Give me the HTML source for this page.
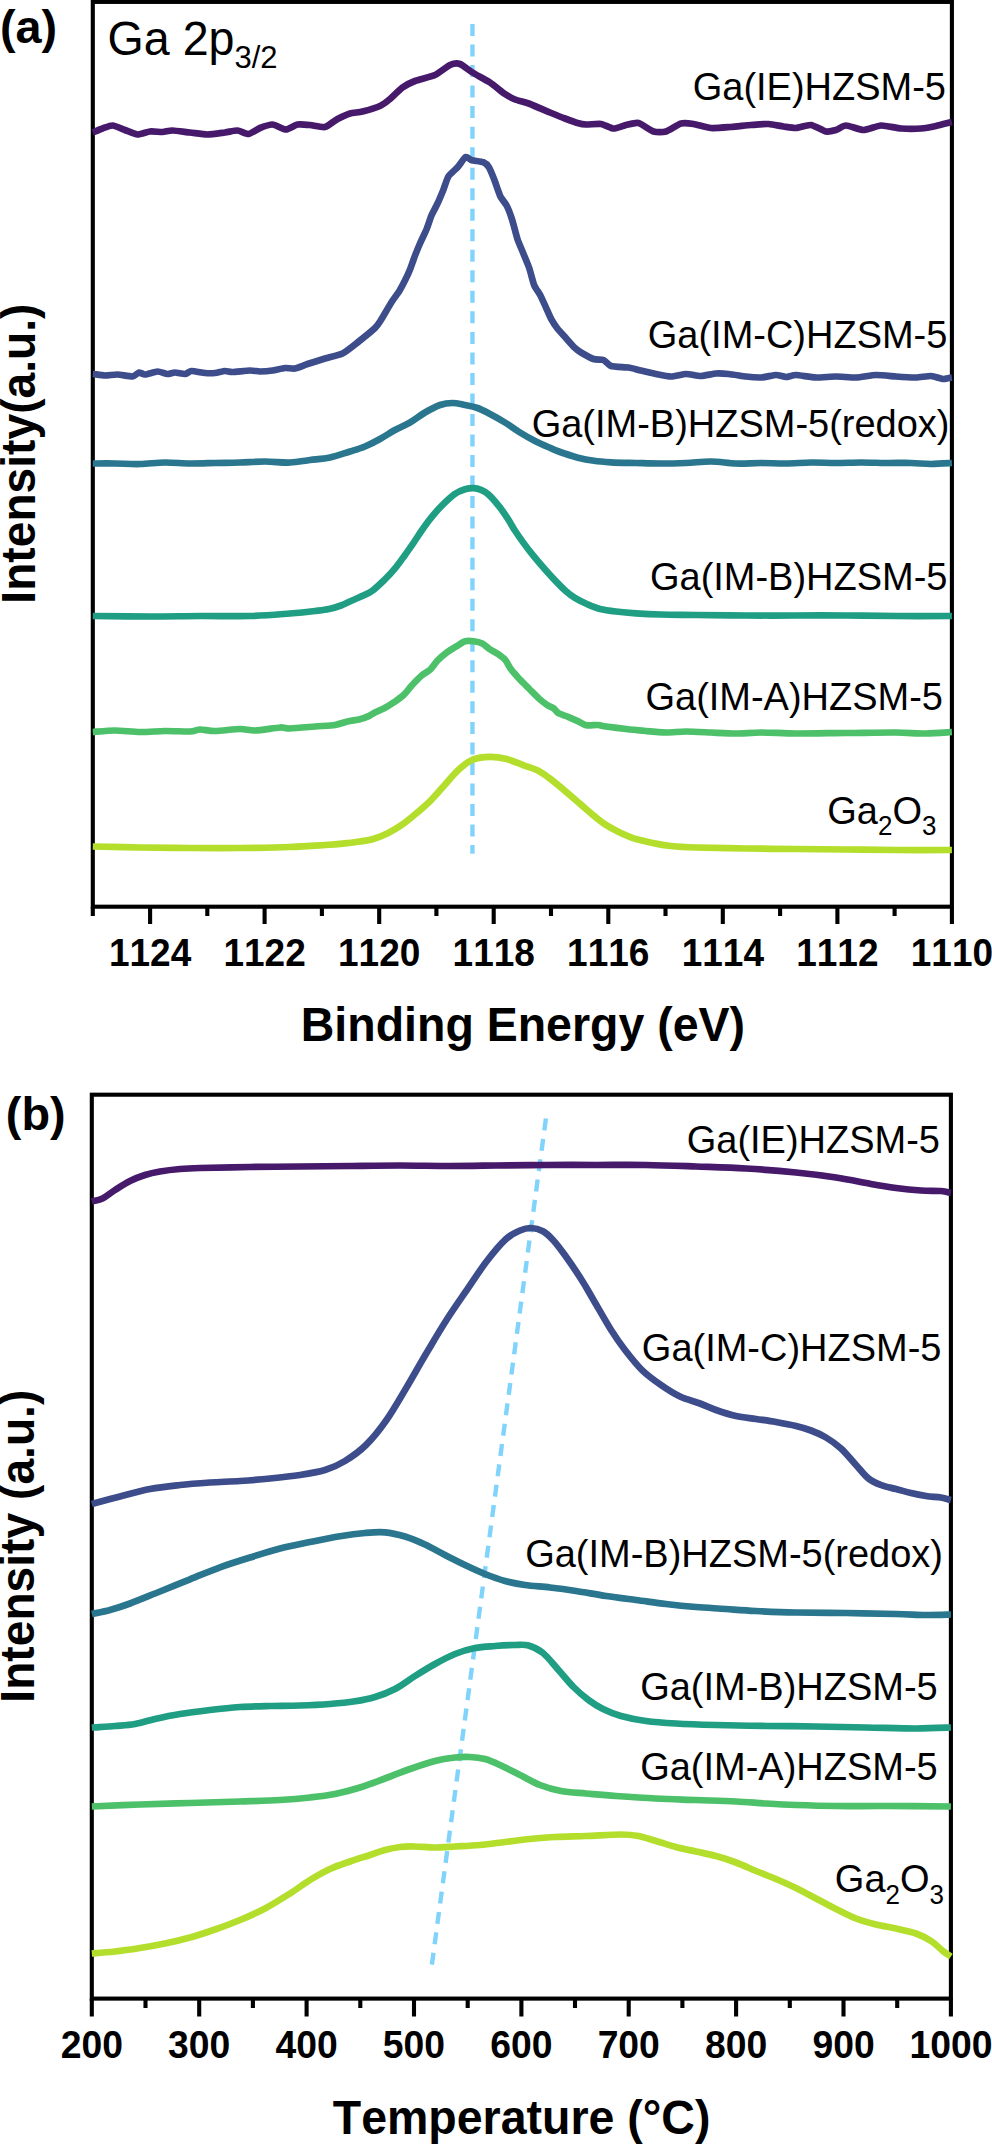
<!DOCTYPE html>
<html lang="en"><head><meta charset="utf-8"><title>Ga XPS and TPR</title>
<style>html,body{margin:0;padding:0;background:#fff}body{width:992px;height:2144px;overflow:hidden}svg{display:block}text{font-family:'Liberation Sans', sans-serif;fill:#000;font-kerning:none}.lab{font-size:38px}.tk{font-size:37px;font-weight:700;text-anchor:middle}.tk2{font-size:37.3px;font-weight:700;text-anchor:middle}.ttl{font-size:46.5px;font-weight:700;text-anchor:middle}.pl{font-size:46.8px;font-weight:700}.c{fill:none;stroke-linejoin:round;stroke-linecap:butt}</style>
</head><body>
<svg width="992" height="2144" viewBox="0 0 992 2144">
<rect width="992" height="2144" fill="#fff"/>
<g id="plot-a">
<rect x="92.8" y="1.9" width="859.1" height="904.8" fill="none" stroke="#000" stroke-width="4.1"/>
<path d="M92.8 906.7V916M150.1 906.7V924M207.3 906.7V916M264.6 906.7V924M321.9 906.7V916M379.2 906.7V924M436.4 906.7V916M493.7 906.7V924M551 906.7V916M608.3 906.7V924M665.5 906.7V916M722.8 906.7V924M780.1 906.7V916M837.4 906.7V924M894.6 906.7V916M951.9 906.7V924" stroke="#000" stroke-width="4.1" fill="none"/>
<line x1="472.45" y1="24" x2="472.45" y2="853.7" stroke="#80d3fb" stroke-width="4.4" stroke-dasharray="12 8.526"/>
<path class="c" d="M92.8 132.5C93.8 132.1 100.4 129.2 102.5 128.5C104.6 127.8 110.1 125.3 112.5 125.5C114.9 125.7 122.3 129 125 130C127.7 131 134.8 134.3 137.5 134.5C140.2 134.7 147.3 131.8 150 131.5C152.7 131.2 160.1 132.1 162.5 132C164.9 131.9 169.6 130.4 172.5 130.5C175.4 130.6 186.3 132.1 190 132.5C193.7 132.9 203.8 134.5 207.5 134.5C211.2 134.5 221.8 132.9 225 132.5C228.2 132.1 235 130.3 237.5 130.5C240 130.7 246.1 134.3 248.5 134C250.9 133.7 257.4 129 260 128C262.6 127 269.7 124.3 272.5 124.5C275.3 124.7 283.3 129.5 286 129.5C288.7 129.5 294.9 125 297.5 124.5C300.1 124 307.1 124.7 310 125C312.9 125.3 322.1 127.6 325 127C327.9 126.4 334.8 120.4 337.5 119C340.2 117.6 347.3 114.3 350 113.5C352.7 112.7 359.3 112.3 362.5 111.5C365.7 110.7 377.1 107.3 380 106C382.9 104.7 387.6 101 390 99C392.4 97 399.8 89.4 402.5 87.5C405.2 85.6 411.5 82.3 415 81C418.5 79.7 431.3 76.7 435 75C438.7 73.3 447.3 66.2 450 65C452.7 63.8 457.6 63.2 460 64C462.4 64.8 469.3 70.5 472.5 72.5C475.7 74.5 486.5 80.2 490 82.5C493.5 84.8 502.3 92.2 505 94C507.7 95.8 512.3 98.4 515 99.5C517.7 100.6 526.3 102.6 530 104C533.7 105.4 546.3 111 550 112.5C553.7 114 562.1 117.4 565 118.5C567.9 119.6 575.3 122.4 577.5 123C579.7 123.6 583.5 124.4 586 124.5C588.5 124.6 598.1 123.6 601 124C603.9 124.4 610.8 128.4 613.5 128.5C616.2 128.6 623.3 125.6 626 125C628.7 124.4 635.6 122.3 638.5 123C641.4 123.7 650.6 130.6 653.5 131.5C656.4 132.4 663.1 132.4 666 131.5C668.9 130.6 678.1 124.3 681 123.5C683.9 122.7 690.3 123.5 693.5 124C696.7 124.5 707 127.7 711 128C715 128.3 726.7 127.3 731 127C735.3 126.7 747 125.3 751 125C755 124.7 765 123.8 768.5 124C772 124.2 780.6 126.1 783.5 126.5C786.4 126.9 793.1 128.2 796 128C798.9 127.8 807.8 124.6 811 125C814.2 125.4 823.3 131 826 131.5C828.7 132 833.9 130.6 836 130C838.1 129.4 843.1 125.5 846 125.5C848.9 125.5 859.8 130 863.5 130C867.2 130 877 125.7 881 125.5C885 125.3 896.7 128.2 901 128.5C905.3 128.8 917.3 128.8 921 128.5C924.7 128.2 932.7 126.7 936 126C939.3 125.3 950.2 122.4 951.9 122" stroke="#46196b" stroke-width="6.7"/>
<path class="c" d="M92.8 374C94 374.1 102.5 375.4 105 375.5C107.5 375.6 114.8 374.4 117.5 374.5C120.2 374.6 130.3 376.7 132.5 376.5C134.7 376.3 137.8 372.7 139 372.5C140.2 372.3 143.2 374.6 145 374.5C146.8 374.4 155.2 371.6 157.5 371.5C159.8 371.4 165.8 373.9 167.5 374C169.2 374.1 173.2 372.5 175 372.5C176.8 372.5 183.3 374.1 185 374C186.7 373.9 189.5 371.1 191.5 371C193.5 370.9 202.7 372.8 205 373C207.3 373.2 213 373.2 215 373C217 372.8 223.2 371.1 225 371C226.8 370.9 230 372.1 232.5 372C235 371.9 247.2 370.6 250 370.5C252.8 370.4 257.8 371.5 260 371.5C262.2 371.5 270 370.9 272.5 370.5C275 370.1 282.8 368.2 285 368C287.2 367.8 292.8 368.9 295 368.5C297.2 368.1 304.5 365 307.5 364C310.5 363 321.5 359.6 325 358.5C328.5 357.4 339.2 355.1 342.5 353.5C345.8 351.9 354.2 345.1 357.5 342.5C360.8 339.9 372.8 330.1 375 328C377.2 325.9 378.3 324.2 380 321.5C381.7 318.8 390.2 304.3 392.1 301.3C394 298.3 397.9 293.3 399.2 291.2C400.5 289.1 404.1 282.3 405.2 280.1C406.3 277.9 409.2 271.5 410.2 269C411.2 266.5 414.3 257.5 415.3 254.9C416.3 252.3 419.2 245.4 420.3 242.8C421.4 240.2 425.7 231.4 426.8 228.7C427.9 226 430.3 218.1 431.4 215.6C432.5 213.1 436.3 206.1 437.5 203.5C438.7 200.9 442.4 192.1 443.5 189.4C444.6 186.7 447.1 178.5 448.5 176.3C449.9 174.1 455.9 169.1 457.6 167.2C459.3 165.3 464.3 157.8 465.7 157.1C467.1 156.4 469.9 159.7 471.7 160.2C473.4 160.7 481.5 161.5 483.2 162.2C484.9 162.9 487.8 165.4 488.9 167.2C490 169 493.4 177.4 494.5 180.3C495.6 183.2 499.2 194 500.4 196.5C501.6 199 505.4 203.2 506.6 205.5C507.8 207.8 511 216.2 512.1 219.6C513.2 223 516.6 236.5 517.7 239.8C518.8 243.1 522 250.1 523.1 252.9C524.2 255.7 528.1 264.8 529.2 268C530.3 271.2 533.1 282.5 534.2 285.2C535.3 287.9 539.1 292.9 540.3 295.2C541.5 297.5 545.2 305.9 546.3 308.3C547.4 310.7 550.3 317.4 551.4 319.4C552.5 321.4 556 326.7 557.4 328.5C558.8 330.3 563.8 335.7 565.5 337.6C567.2 339.5 573.1 346.2 574.6 347.7C576.1 349.2 579.1 351.4 581 352.5C582.9 353.6 591.2 358.2 593.5 359C595.8 359.8 601.8 359.3 603.5 360C605.2 360.7 608.5 365.2 611 366C613.5 366.8 625.5 367.1 628.5 367.5C631.5 367.9 638.2 369.9 641 370.5C643.8 371.1 653 373.4 656 374C659 374.6 668 376.5 671 376.5C674 376.5 683 374.1 686 374C689 373.9 698 376.1 701 376C704 375.9 713.2 373.7 716 373.5C718.8 373.3 725.5 373.7 728.5 374C731.5 374.3 742.8 376.1 746 376.5C749.2 376.9 758 377.6 761 377.5C764 377.4 773.5 375.1 776 375C778.5 374.9 784 377 786 377C788 377 793 374.9 796 375C799 375.1 812 377.4 816 377.5C820 377.6 832 376.5 836 376.5C840 376.5 852 377.6 856 377.5C860 377.4 872 375.1 876 375C880 374.9 892 376.2 896 376.5C900 376.8 912.5 377.6 916 377.5C919.5 377.4 928.2 375.9 931 376C933.8 376.1 941.4 378.9 943.5 379C945.6 379.1 951.1 377.6 951.9 377.5" stroke="#3d4c8a" stroke-width="6.7"/>
<path class="c" d="M92.8 463.5C96.5 463.5 107.1 463.4 115 463.5C122.9 463.6 131.7 464.2 140 464C148.3 463.8 156.7 462.6 165 462.5C173.3 462.4 181.7 463.4 190 463.5C198.3 463.6 206.7 463.2 215 463C223.3 462.8 231.7 462.8 240 462.5C248.3 462.2 256.7 461.5 265 461.5C273.3 461.5 282.5 462.8 290 462.5C297.5 462.2 303.3 460.8 310 460C316.7 459.2 323.3 458.9 330 457.5C336.7 456.1 344.2 453.3 350 451.5C355.8 449.7 360 448.6 365 446.5C370 444.4 375 441.8 380 439C385 436.2 390 432.8 395 430C400 427.2 405 425.4 410 422.5C415 419.6 420 415.4 425 412.5C430 409.6 435.4 406.6 440 405C444.6 403.4 448.3 403 452.5 403C456.7 403 460.8 404.2 465 405C469.2 405.8 473.3 406.5 477.5 408C481.7 409.5 485.4 411.6 490 414C494.6 416.4 500 419.4 505 422.5C510 425.6 515 429.4 520 432.5C525 435.6 530 438.4 535 441C540 443.6 545.3 445.8 550 447.8C554.7 449.8 558.3 451.4 563 453C567.7 454.6 572.8 456.4 578 457.7C583.2 459 588.5 460 594 460.8C599.5 461.6 604 461.9 611 462.3C618 462.7 627.7 462.8 636 463C644.3 463.2 652.7 463.5 661 463.5C669.3 463.5 677.7 463.3 686 463C694.3 462.7 702.7 461.4 711 461.5C719.3 461.6 727.7 463.2 736 463.5C744.3 463.8 752.7 463 761 463C769.3 463 777.7 463.6 786 463.5C794.3 463.4 802.7 462.6 811 462.5C819.3 462.4 827.7 463 836 463C844.3 463 852.7 462.5 861 462.5C869.3 462.5 877.7 462.9 886 463C894.3 463.1 903.5 462.8 911 463C918.5 463.2 924.2 464 931 464C937.8 464 948.4 463.2 951.9 463" stroke="#2a768e" stroke-width="6.7"/>
<path class="c" d="M92.8 616C102.3 616.1 132.1 616.5 150 616.5C167.9 616.5 183.3 616.1 200 616C216.7 615.9 235 616.4 250 616C265 615.6 279.2 614.3 290 613.5C300.8 612.7 308.5 611.8 315 611C321.5 610.2 324.7 609.9 329 609C333.3 608.1 337.2 606.9 341 605.5C344.8 604.1 348.8 601.9 352 600.5C355.2 599.1 356.7 598.6 360 597C363.3 595.4 367.8 594 372 591C376.2 588 381.3 582.9 385.4 578.9C389.4 574.9 393 570.8 396.3 566.8C399.6 562.8 402.3 558.7 405.2 554.7C408.1 550.7 410.9 546.6 413.7 542.6C416.4 538.6 418.9 534.5 421.7 530.5C424.5 526.5 427.4 522.4 430.6 518.4C433.8 514.4 437.1 510.3 441.1 506.3C445.1 502.3 450.4 497 454.4 494.2C458.4 491.4 461.8 490.3 465 489.3C468.2 488.3 471 488 473.7 488.1C476.4 488.2 478.6 488.8 481 489.8C483.4 490.8 485.2 491.4 488.2 494.2C491.2 496.9 495.9 502.3 499.1 506.3C502.3 510.3 505 514.4 507.6 518.4C510.2 522.4 512.3 526.5 514.9 530.5C517.5 534.5 520.4 538.6 523.3 542.6C526.2 546.6 529.3 550.7 532.5 554.7C535.7 558.7 539.2 562.8 542.7 566.8C546.2 570.8 549.8 574.9 553.6 578.9C557.4 582.9 562.1 587.8 565.7 591C569.3 594.2 571.7 596 575.3 598.2C578.9 600.4 583.3 602.5 587.4 604.3C591.5 606.1 595.2 607.8 600 609C604.8 610.2 610 610.8 616 611.5C622 612.2 628.5 612.8 636 613.3C643.5 613.8 651 614.2 661 614.5C671 614.8 681.8 614.8 696 615C710.2 615.2 729.3 615.4 746 615.5C762.7 615.6 779.3 615.5 796 615.5C812.7 615.5 829.3 615.4 846 615.5C862.7 615.6 878.4 615.9 896 616C913.6 616.1 942.6 616 951.9 616" stroke="#1f9e84" stroke-width="6.7"/>
<path class="c" d="M92.8 732C95.8 731.8 108.7 730.5 115 730.5C121.3 730.5 133.3 731.9 140 732C146.7 732.1 158.3 731.1 165 731C171.7 730.9 185.3 731.7 190 731.5C194.7 731.3 196.7 729.6 200 729.5C203.3 729.4 209.7 731.1 215 731C220.3 730.9 234.7 729.1 240 729C245.3 728.9 249.7 730.7 255 730.5C260.3 730.3 275.3 727.8 280 727.5C284.7 727.2 285.3 728.6 290 728.5C294.7 728.4 309 727 315 726.5C321 726 330.7 725.7 335 725C339.3 724.3 344.2 722.3 347.5 721.5C350.8 720.7 357 720 360 719.2C363 718.4 367.8 716.5 369.7 715.6C371.6 714.7 372.6 713.7 374.5 712.7C376.4 711.7 381.6 709.7 384.2 708.3C386.8 706.9 391.3 704.1 393.9 702.3C396.5 700.5 401.2 697.3 403.6 695C406 692.7 409.6 687.9 412 685.3C414.4 682.7 419.3 677.7 421.7 675.6C424.1 673.5 428.1 671.6 430.2 669.6C432.3 667.6 435.1 662.9 437.4 660.6C439.7 658.3 444.5 654.1 447.1 652.2C449.7 650.3 454.4 647.6 456.8 646.1C459.2 644.6 462.9 641.9 465.2 641.3C467.5 640.7 471.4 641 473.7 641.3C476 641.6 480.1 642.5 482.2 643.5C484.3 644.5 487.3 647.6 489.4 649C491.5 650.4 495.8 652.4 497.9 653.9C500 655.4 503.4 657.8 505.2 659.9C507 662 509.3 667 511.2 669.6C513.1 672.2 517.3 676.7 519.7 679.3C522.1 681.9 526.8 686.4 529.4 689C532 691.6 536.6 696.4 539 698.6C541.4 700.8 545.6 703.9 547.5 705.2C549.4 706.5 552.1 707.2 553.6 708.3C555.1 709.4 556.5 712.1 558.4 713.2C560.3 714.3 565.5 715.7 568.1 716.8C570.7 717.9 575.4 720 577.8 721.1C580.2 722.2 583.5 724.7 586.2 725.2C588.9 725.7 595.4 724.8 598 725C600.6 725.2 602.3 726 606 726.5C609.7 727 620.7 728.4 626 729C631.3 729.6 640.7 730.5 646 731C651.3 731.5 660.7 732.4 666 732.5C671.3 732.6 680 731.5 686 731.5C692 731.5 704.3 732.2 711 732.5C717.7 732.8 729.3 733.5 736 733.5C742.7 733.5 753 732.5 761 732.5C769 732.5 784.7 733.4 796 733.5C807.3 733.6 832.7 733.1 846 733C859.3 732.9 885.3 732.4 896 732.5C906.7 732.6 918.5 733.6 926 733.5C933.5 733.4 948.4 732.2 951.9 732" stroke="#4dc06a" stroke-width="6.7"/>
<path class="c" d="M92.8 846.5C100.7 846.7 123.8 847.2 140 847.5C156.2 847.8 173.3 847.9 190 848C206.7 848.1 223.3 848.2 240 848C256.7 847.8 275.8 847.5 290 847C304.2 846.5 315.8 845.6 325 845C334.2 844.4 339.2 843.9 345 843.3C350.8 842.7 355.1 842.3 360 841.5C364.9 840.7 369.4 840.1 374.1 838.7C378.8 837.3 383.5 835.4 388.2 833C392.9 830.6 397.6 827.9 402.3 824.6C407 821.3 411.7 817.3 416.4 813.3C421.1 809.3 425.9 805.3 430.6 800.6C435.3 795.9 440 790.2 444.7 785C449.4 779.8 454.1 773.7 458.8 769.5C463.5 765.3 467.7 761.7 472.9 759.6C478.1 757.5 484.1 756.9 489.8 756.8C495.5 756.7 501.1 757.7 506.8 759.1C512.5 760.5 518.5 763.4 523.7 765.3C528.9 767.2 533.6 768.3 537.8 770.4C542 772.5 544.9 774.9 549.1 778C553.3 781.1 558 785 563.2 789.3C568.4 793.6 575 799.4 580.2 803.9C585.4 808.4 590.1 812.6 594.3 816.1C598.5 819.6 601.3 821.9 605.5 824.6C609.7 827.3 615.5 830.4 619.7 832.5C624 834.6 627.6 836 631 837.3C634.4 838.6 636 839.1 640 840.1C644 841.1 649.8 842.5 655 843.5C660.2 844.5 664.2 845.3 671 846C677.8 846.7 683.5 847.1 696 847.5C708.5 847.9 729.3 848.2 746 848.5C762.7 848.8 779.3 848.8 796 849C812.7 849.2 829.3 849.3 846 849.5C862.7 849.7 878.4 849.9 896 850C913.6 850.1 942.6 850 951.9 850" stroke="#b4de2c" stroke-width="6.7"/>
<text class="pl" transform="translate(0 43.4)">(a)</text>
<text style="font-size:46.6px" transform="translate(107.6 54.8) scale(1 1.03)">Ga 2p<tspan font-size="31" dy="12.4">3/2</tspan></text>
<text class="lab" text-anchor="end" transform="translate(946 100) scale(1 1.035)">Ga(IE)HZSM-5</text>
<text class="lab" text-anchor="end" transform="translate(947.4 347.6) scale(1 1.035)">Ga(IM-C)HZSM-5</text>
<text class="lab" text-anchor="end" transform="translate(949.5 436.6) scale(1 1.035)">Ga(IM-B)HZSM-5(redox)</text>
<text class="lab" text-anchor="end" transform="translate(947.5 590.2) scale(1 1.035)">Ga(IM-B)HZSM-5</text>
<text class="lab" text-anchor="end" transform="translate(943 709.8) scale(1 1.035)">Ga(IM-A)HZSM-5</text>
<text class="lab" text-anchor="end" transform="translate(936.4 823.8) scale(1 1.035)">Ga<tspan font-size="26" dy="11">2</tspan><tspan dy="-11">O</tspan><tspan font-size="26" dy="11">3</tspan></text>
<text class="tk" transform="translate(150.07 965.7) scale(1 1.03)">1124</text>
<text class="tk" transform="translate(264.62 965.7) scale(1 1.03)">1122</text>
<text class="tk" transform="translate(379.17 965.7) scale(1 1.03)">1120</text>
<text class="tk" transform="translate(493.71 965.7) scale(1 1.03)">1118</text>
<text class="tk" transform="translate(608.26 965.7) scale(1 1.03)">1116</text>
<text class="tk" transform="translate(722.81 965.7) scale(1 1.03)">1114</text>
<text class="tk" transform="translate(837.35 965.7) scale(1 1.03)">1112</text>
<text class="tk" transform="translate(951.9 965.7) scale(1 1.03)">1110</text>
<text class="ttl" transform="translate(522.9 1041.4) scale(1 1.02)">Binding Energy (eV)</text>
<text class="ttl" style="font-size:46.2px" transform="translate(34.7 453.6) rotate(-90) scale(1 1.03)">Intensity(a.u.)</text>
</g>
<g id="plot-b">
<rect x="91.8" y="1094.7" width="859.1" height="903.9" fill="none" stroke="#000" stroke-width="4.1"/>
<path d="M91.8 1998.6V2016.5M145.5 1998.6V2008M199.2 1998.6V2016.5M252.9 1998.6V2008M306.6 1998.6V2016.5M360.3 1998.6V2008M414 1998.6V2016.5M467.7 1998.6V2008M521.4 1998.6V2016.5M575 1998.6V2008M628.7 1998.6V2016.5M682.4 1998.6V2008M736.1 1998.6V2016.5M789.8 1998.6V2008M843.5 1998.6V2016.5M897.2 1998.6V2008M950.9 1998.6V2016.5" stroke="#000" stroke-width="4.1" fill="none"/>
<line x1="545.9" y1="1118.5" x2="431.85" y2="1964.9" stroke="#80d3fb" stroke-width="4.4" stroke-dasharray="12 8.53"/>
<path class="c" d="M91.8 1201.5C93.6 1201 98.6 1200.4 102.5 1198.5C106.4 1196.6 110.4 1192.9 115 1190C119.6 1187.1 125 1183.5 130 1181C135 1178.5 140 1176.6 145 1175C150 1173.4 154.2 1172.5 160 1171.5C165.8 1170.5 173.3 1169.6 180 1169C186.7 1168.4 188.3 1168.3 200 1168C211.7 1167.7 233.3 1167.2 250 1167C266.7 1166.8 283.3 1166.7 300 1166.5C316.7 1166.3 333.3 1166.2 350 1166C366.7 1165.8 383.3 1165.5 400 1165.5C416.7 1165.5 434 1166 450 1166C466 1166 480 1165.7 496 1165.5C512 1165.3 529.3 1165.1 546 1165C562.7 1164.9 579.3 1165 596 1165C612.7 1165 629.3 1164.8 646 1165C662.7 1165.2 679.3 1165.9 696 1166.5C712.7 1167.1 729.3 1167.5 746 1168.5C762.7 1169.5 781 1171 796 1172.5C811 1174 823.5 1175.6 836 1177.5C848.5 1179.4 861 1182.2 871 1184C881 1185.8 887.7 1186.9 896 1188C904.3 1189.1 913.5 1190 921 1190.5C928.5 1191 936 1190.6 941 1191C946 1191.4 949.2 1192.7 950.9 1193" stroke="#46196b" stroke-width="6.7"/>
<path class="c" d="M91.8 1504C96.5 1502.8 110.3 1499 120 1496.5C129.7 1494 140 1490.9 150 1489C160 1487.1 170 1486.1 180 1485C190 1483.9 200 1483.2 210 1482.5C220 1481.8 230 1481.7 240 1481C250 1480.3 260 1479.5 270 1478.5C280 1477.5 290.8 1476.4 300 1475C309.2 1473.6 317.5 1472.3 325 1470C332.5 1467.7 338.2 1465.2 345 1461C351.8 1456.8 359.1 1451.8 366 1445C372.9 1438.2 379.8 1429.6 386.5 1420C393.2 1410.4 399.8 1398.7 406.5 1387.5C413.2 1376.3 419.8 1364.2 426.5 1353C433.2 1341.8 439.8 1330.4 446.5 1320C453.2 1309.6 459.8 1300.2 466.5 1290.5C473.2 1280.8 479.9 1270.1 486.5 1261.5C493.1 1252.9 500.4 1244.2 506 1239C511.6 1233.8 515.8 1232.3 520 1230.5C524.2 1228.7 527.2 1227.9 531 1228C534.8 1228.1 539.3 1229.3 543 1231.3C546.7 1233.3 549.3 1236 553 1240C556.7 1244 560.2 1248.6 565 1255.3C569.8 1262 577 1272.5 581.7 1280C586.5 1287.5 588.6 1291.7 593.5 1300C598.4 1308.3 605.8 1321.6 611.1 1330C616.4 1338.4 620 1343.5 625.2 1350.2C630.4 1356.9 636.3 1364.5 642.3 1370.3C648.3 1376.1 654.7 1380.6 661 1385C667.3 1389.4 673.5 1393.4 680 1396.5C686.5 1399.6 694 1401.2 700 1403.5C706 1405.8 710 1407.9 716 1410C722 1412.1 729.3 1414.5 736 1416C742.7 1417.5 749.3 1418 756 1419C762.7 1420 769.3 1420.8 776 1422C782.7 1423.2 790.2 1424.6 796 1426C801.8 1427.4 806 1428.6 811 1430.5C816 1432.4 821 1434.5 826 1437.5C831 1440.5 836 1443.9 841 1448.5C846 1453.1 851.4 1460 856 1465C860.6 1470 864.3 1475.2 868.5 1478.5C872.7 1481.8 876.4 1483.2 881 1485C885.6 1486.8 891 1487.7 896 1489C901 1490.3 906 1491.8 911 1493C916 1494.2 921 1495.2 926 1496C931 1496.8 936.9 1496.8 941 1497.5C945.1 1498.2 949.2 1499.6 950.9 1500" stroke="#3d4c8a" stroke-width="6.7"/>
<path class="c" d="M91.8 1614C94.8 1613.3 103.6 1611.8 110 1610C116.4 1608.2 121.7 1606.6 130 1603.5C138.3 1600.4 150 1595.5 160 1591.5C170 1587.5 180 1583.3 190 1579.3C200 1575.3 210 1570.9 220 1567.3C230 1563.7 240 1560.6 250 1557.5C260 1554.4 270 1551.1 280 1548.5C290 1545.9 300 1544 310 1542C320 1540 330.8 1537.8 340 1536.3C349.2 1534.8 357.5 1533.7 365 1533C372.5 1532.3 378.3 1531.7 385 1532.3C391.7 1532.9 398.3 1534.5 405 1536.5C411.7 1538.5 418.3 1541.4 425 1544.5C431.7 1547.6 438.3 1551.6 445 1555C451.7 1558.4 458.3 1561.8 465 1565C471.7 1568.2 478.3 1571.3 485 1574C491.7 1576.7 498.3 1579.2 505 1581C511.7 1582.8 517.5 1583.9 525 1585C532.5 1586.1 541.5 1586.5 550 1587.5C558.5 1588.5 566.7 1589.6 576 1591C585.3 1592.4 596 1594.5 606 1596C616 1597.5 626 1598.7 636 1600C646 1601.3 656 1602.8 666 1604C676 1605.2 686 1606.2 696 1607C706 1607.8 716 1608.3 726 1609C736 1609.7 744.3 1610.4 756 1611C767.7 1611.6 781 1612.2 796 1612.5C811 1612.8 829.3 1612.8 846 1613C862.7 1613.2 882.7 1613.7 896 1614C909.3 1614.3 916.9 1614.9 926 1615C935.1 1615.1 946.8 1614.6 950.9 1614.5" stroke="#2a768e" stroke-width="6.7"/>
<path class="c" d="M91.8 1727.5C95.7 1727.2 107.8 1726.6 115 1726C122.2 1725.4 128.3 1725.2 135 1724C141.7 1722.8 147.5 1720.7 155 1719C162.5 1717.3 170.8 1715.5 180 1714C189.2 1712.5 200 1711.2 210 1710C220 1708.8 230 1707.7 240 1707C250 1706.3 260 1706.2 270 1706C280 1705.8 290 1705.8 300 1705.5C310 1705.2 320.8 1704.7 330 1704C339.2 1703.3 347.5 1702.5 355 1701.3C362.5 1700.1 368.3 1699 375 1697C381.7 1695 388.3 1692.5 395 1689C401.7 1685.5 408.3 1680.2 415 1676C421.7 1671.8 428.3 1667.7 435 1664C441.7 1660.3 448.3 1656.7 455 1654C461.7 1651.3 468.3 1649.3 475 1648C481.7 1646.7 488.3 1646.5 495 1646C501.7 1645.5 509.4 1645.1 515 1645C520.6 1644.9 523.8 1644.2 528.5 1645.5C533.2 1646.8 538 1648.9 543 1653C548 1657.1 553.4 1664.3 558.5 1670C563.6 1675.7 568.5 1682 573.5 1687C578.5 1692 583.6 1696.3 588.5 1700C593.4 1703.7 597.6 1706.3 603 1709C608.4 1711.7 613.8 1714 621 1716C628.2 1718 636.8 1719.8 646 1721C655.2 1722.2 664.3 1722.8 676 1723.5C687.7 1724.2 701 1724.6 716 1725C731 1725.4 749.3 1725.8 766 1726C782.7 1726.2 799.3 1726.2 816 1726.5C832.7 1726.8 849.3 1727.2 866 1727.5C882.7 1727.8 901.9 1728.5 916 1728.5C930.1 1728.5 945.1 1727.7 950.9 1727.5" stroke="#1f9e84" stroke-width="6.7"/>
<path class="c" d="M91.8 1806.5C99.8 1806.2 123.6 1805.1 140 1804.5C156.4 1803.9 173.3 1803.5 190 1803C206.7 1802.5 225 1802 240 1801.5C255 1801 268.3 1800.7 280 1800C291.7 1799.3 300.8 1798.5 310 1797.5C319.2 1796.5 326.7 1795.7 335 1794C343.3 1792.3 351.7 1790.1 360 1787.5C368.3 1784.9 376.7 1781.6 385 1778.5C393.3 1775.4 401.7 1771.9 410 1769C418.3 1766.1 427.5 1762.9 435 1761C442.5 1759.1 449.2 1758.2 455 1757.5C460.8 1756.8 465 1756.8 470 1757C475 1757.2 480 1757.7 485 1759C490 1760.3 494.2 1762.3 500 1765C505.8 1767.7 513.3 1771.7 520 1775C526.7 1778.3 533.2 1782.3 540 1785C546.8 1787.7 553.3 1789.6 561 1791C568.7 1792.4 576.8 1792.7 586 1793.5C595.2 1794.3 604.3 1795.2 616 1796C627.7 1796.8 642.7 1797.8 656 1798.5C669.3 1799.2 682.7 1799.5 696 1800C709.3 1800.5 724.3 1800.9 736 1801.5C747.7 1802.1 756 1802.9 766 1803.5C776 1804.1 784.3 1804.6 796 1805C807.7 1805.4 821 1805.8 836 1806C851 1806.2 866.9 1805.9 886 1806C905.1 1806.1 940.1 1806.4 950.9 1806.5" stroke="#4dc06a" stroke-width="6.7"/>
<path class="c" d="M91.8 1953.5C95.7 1953.2 107 1952.4 115 1951.5C123 1950.6 131.7 1949.3 140 1948C148.3 1946.7 156.7 1945.2 165 1943.5C173.3 1941.8 181.7 1939.8 190 1937.5C198.3 1935.2 206.7 1932.4 215 1929.5C223.3 1926.6 231.7 1923.5 240 1920C248.3 1916.5 256.7 1912.9 265 1908.5C273.3 1904.1 282.5 1898.2 290 1893.5C297.5 1888.8 303.3 1884.1 310 1880C316.7 1875.9 323.3 1872.1 330 1869C336.7 1865.9 343.3 1863.8 350 1861.5C356.7 1859.2 364.2 1856.9 370 1855C375.8 1853.1 380 1851.3 385 1850C390 1848.7 395 1847.6 400 1847C405 1846.4 409.2 1846.4 415 1846.5C420.8 1846.6 428.3 1847.5 435 1847.5C441.7 1847.5 447.5 1846.9 455 1846.5C462.5 1846.1 471.7 1845.8 480 1845C488.3 1844.2 496.7 1843 505 1842C513.3 1841 521.7 1839.8 530 1839C538.3 1838.2 545.7 1837.5 555 1837C564.3 1836.5 575 1836.4 586 1836C597 1835.6 612.2 1834.5 621 1834.5C629.8 1834.5 632.7 1834.9 638.5 1836C644.3 1837.1 649.8 1839.2 656 1841C662.2 1842.8 669.3 1845.2 676 1847C682.7 1848.8 689.3 1850 696 1851.5C702.7 1853 709.3 1854.2 716 1856C722.7 1857.8 729.3 1860 736 1862.5C742.7 1865 749.3 1868.2 756 1871C762.7 1873.8 769.3 1876.2 776 1879C782.7 1881.8 789.3 1884.8 796 1888C802.7 1891.2 809.3 1895 816 1898.5C822.7 1902 829.3 1905.7 836 1909C842.7 1912.3 849.3 1915.9 856 1918.5C862.7 1921.1 869.3 1922.8 876 1924.5C882.7 1926.2 889.3 1927 896 1928.5C902.7 1930 910.2 1931.4 916 1933.5C921.8 1935.6 926.4 1938 931 1941C935.6 1944 940.2 1948.9 943.5 1951.5C946.8 1954.1 949.7 1955.7 950.9 1956.5" stroke="#b4de2c" stroke-width="6.7"/>
<text class="pl" transform="translate(5.8 1130.3)">(b)</text>
<text class="lab" text-anchor="end" transform="translate(940 1152.7) scale(1 1.035)">Ga(IE)HZSM-5</text>
<text class="lab" text-anchor="end" transform="translate(941.5 1360.5) scale(1 1.035)">Ga(IM-C)HZSM-5</text>
<text class="lab" text-anchor="end" transform="translate(943 1567) scale(1 1.035)">Ga(IM-B)HZSM-5(redox)</text>
<text class="lab" text-anchor="end" transform="translate(937.7 1700.2) scale(1 1.035)">Ga(IM-B)HZSM-5</text>
<text class="lab" text-anchor="end" transform="translate(937.7 1780.1) scale(1 1.035)">Ga(IM-A)HZSM-5</text>
<text class="lab" text-anchor="end" transform="translate(944 1892.4) scale(1 1.035)">Ga<tspan font-size="26" dy="11">2</tspan><tspan dy="-11">O</tspan><tspan font-size="26" dy="11">3</tspan></text>
<text class="tk2" transform="translate(91.8 2057.9) scale(1 1.03)">200</text>
<text class="tk2" transform="translate(199.19 2057.9) scale(1 1.03)">300</text>
<text class="tk2" transform="translate(306.57 2057.9) scale(1 1.03)">400</text>
<text class="tk2" transform="translate(413.96 2057.9) scale(1 1.03)">500</text>
<text class="tk2" transform="translate(521.35 2057.9) scale(1 1.03)">600</text>
<text class="tk2" transform="translate(628.74 2057.9) scale(1 1.03)">700</text>
<text class="tk2" transform="translate(736.12 2057.9) scale(1 1.03)">800</text>
<text class="tk2" transform="translate(843.51 2057.9) scale(1 1.03)">900</text>
<text class="tk2" transform="translate(950.9 2057.9) scale(1 1.03)">1000</text>
<text class="ttl" transform="translate(521.6 2133.5) scale(1 1.02)">Temperature (°C)</text>
<text class="ttl" style="font-size:46.2px" transform="translate(34.4 1546.2) rotate(-90) scale(1 1.03)">Intensity (a.u.)</text>
</g>
</svg></body></html>
